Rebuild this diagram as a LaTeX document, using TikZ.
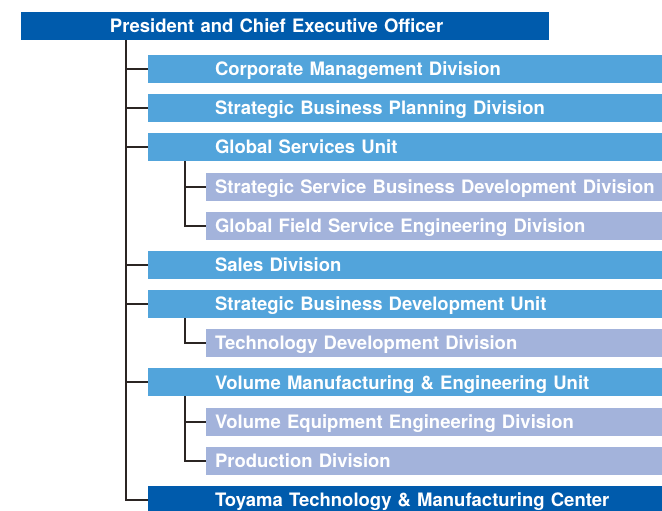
\documentclass[tikz,border=0pt]{standalone}
\usepackage{fontspec}
\setmainfont{TeX Gyre Heros}
\usepackage{tikz}
\usetikzlibrary{positioning}
\definecolor{headblue}{HTML}{005BAC}
\definecolor{unitblue}{HTML}{52A4DB}
\definecolor{sublilac}{HTML}{A3B3DB}
\definecolor{linkdark}{HTML}{2B2523}
\tikzset{
    node distance=11.17pt, % Gap between two bars
    every node/.style={ % Common look of all bars
        text=white,
        font=\fontsize{18.5}{20}\selectfont\bfseries,
        minimum height=28pt,
        inner xsep=0pt, inner ysep=0pt, outer sep=0pt,
        text height=13.3pt, text depth=0pt,
        align=left,
        anchor=west
    },
    headbar/.style={ % Top executive bar
        fill=headblue, text width=528pt,
        execute at begin node={\hspace*{89pt}}
    },
    unitbar/.style={ % Units and divisions on the main line
        fill=unitblue, text width=514pt,
        execute at begin node={\hspace*{67pt}}
    },
    centerbar/.style={ % Last bar, dark
        unitbar, fill=headblue
    },
    subbar/.style={ % Divisions under a unit
        fill=sublilac, text width=456pt,
        execute at begin node={\hspace*{9pt}}
    },
    link/.style={ % Connector lines
        draw=linkdark,
        line width=2pt
    }
}

\begin{document}
\begin{tikzpicture}[x=1pt,y=1pt]
    \useasboundingbox (0,0) rectangle (662,-511);

    \node[headbar] (ceo) at (21,-26) {President and Chief Executive Officer};
    \node[unitbar] (corp) at (148,-69) {Corporate Management Division};
    \node[unitbar, below=of corp.south west, anchor=north west] (sbp) {Strategic Business Planning Division};
    \node[unitbar, below=of sbp.south west, anchor=north west] (gsu) {Global Services Unit};
    \node[subbar, below=of gsu.south west, anchor=north west, xshift=58pt] (ssbd) {Strategic Service Business Development Division};
    \node[subbar, below=of ssbd.south west, anchor=north west] (gfse) {Global Field Service Engineering Division};
    \node[unitbar, below=of gfse.south west, anchor=north west, xshift=-58pt] (sales) {Sales Division};
    \node[unitbar, below=of sales.south west, anchor=north west] (sbd) {Strategic Business Development Unit};
    \node[subbar, below=of sbd.south west, anchor=north west, xshift=58pt] (tdd) {Technology Development Division};
    \node[unitbar, below=of tdd.south west, anchor=north west, xshift=-58pt] (vme) {Volume Manufacturing \& Engineering Unit};
    \node[subbar, below=of vme.south west, anchor=north west, xshift=58pt] (vee) {Volume Equipment Engineering Division};
    \node[subbar, below=of vee.south west, anchor=north west] (prod) {Production Division};
    \node[centerbar, below=of prod.south west, anchor=north west, xshift=-58pt] (toyama) {Toyama Technology \& Manufacturing Center};

    \coordinate (spine) at (126,0);
    \coordinate (branch) at (185,0);

    % main line
    \draw[link] (ceo.south -| spine) |- (toyama.west);
    \foreach \n in {corp, sbp, gsu, sales, sbd, vme}
        \draw[link] (spine |- \n.west) -- (\n.west);

    % branches under the units
    \draw[link] (gsu.south -| branch) |- (gfse.west);
    \draw[link] (branch |- ssbd.west) -- (ssbd.west);
    \draw[link] (sbd.south -| branch) |- (tdd.west);
    \draw[link] (vme.south -| branch) |- (prod.west);
    \draw[link] (branch |- vee.west) -- (vee.west);
\end{tikzpicture}
\end{document}
